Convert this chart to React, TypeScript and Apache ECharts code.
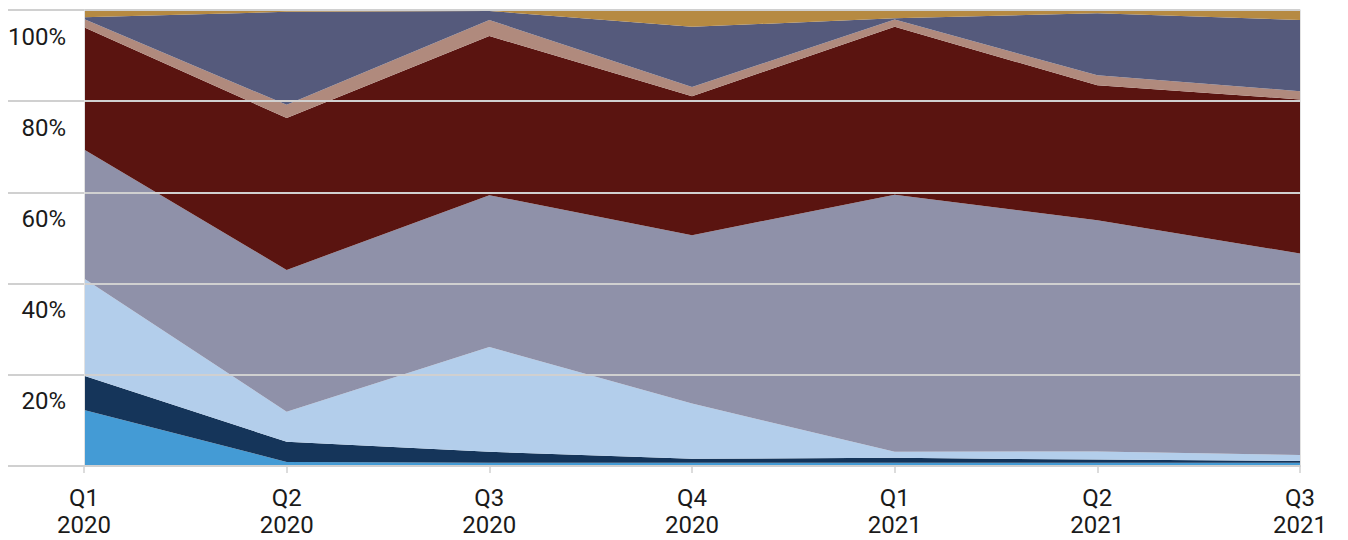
import React, { useEffect, useRef } from "react";
import * as echarts from "echarts";

const categories = ["Q1\n2020", "Q2\n2020", "Q3\n2020", "Q4\n2020", "Q1\n2021", "Q2\n2021", "Q3\n2021"];

const seriesNames = ["A", "B", "C", "D", "E", "F", "G", "H"];
const brightBlue = [12.3, 0.9, 0.7, 0.7, 0.7, 0.7, 0.7];
const navy = [7.5, 4.4, 2.4, 0.9, 1.1, 0.7, 0.4];
const lightBlue = [21.3, 6.6, 23.0, 12.1, 1.3, 1.8, 1.3];
const grayLav = [28.3, 31.1, 33.3, 36.9, 56.4, 50.7, 44.2];
const maroon = [26.8, 33.3, 34.9, 30.5, 36.8, 29.6, 33.8];
const pink = [1.8, 2.9, 3.5, 2.0, 1.6, 2.2, 1.8];
const slate = [0.4, 20.4, 2.0, 13.2, 0.3, 13.6, 15.6];
const gold = [1.6, 0.4, 0.2, 3.7, 1.8, 0.7, 2.2];

const yTicks = [0, 20, 40, 60, 80, 100];

const seriesData = [brightBlue, navy, lightBlue, grayLav, maroon, pink, slate, gold];
const colors = ["#449bd5", "#15355a", "#b3ceeb", "#8f91a9", "#5a1410", "#b08a7d", "#555a7c", "#b68a42"];

export default function App() {
  const ref = useRef<HTMLDivElement>(null);
  useEffect(() => {
    if (!ref.current) return;
    const chart = echarts.init(ref.current, null, { renderer: "svg" });
    const gridColor = "#d0d0d0";
    chart.setOption({
      animation: false,
      grid: { left: 84, right: 48, top: 10, bottom: 74, containLabel: false },
      xAxis: {
        type: "category",
        data: categories,
        boundaryGap: false,
        z: 3,
        axisLine: { show: true, lineStyle: { color: gridColor, width: 2 } },
        axisTick: { show: true, length: 7, alignWithLabel: true, lineStyle: { color: gridColor, width: 1.5 } },
        axisLabel: {
          margin: 18,
          fontFamily: "Roboto",
          fontSize: 24,
          lineHeight: 27,
          color: "#1a1a1a",
          interval: 0,
        },
        splitLine: { show: false },
      },
      yAxis: [
        {
          type: "value",
          min: yTicks[0],
          max: yTicks[yTicks.length - 1],
          interval: 20,
          z: 3,
          axisLine: { show: true, lineStyle: { color: "#e2e2e2", width: 1 } },
          axisTick: { show: true, length: 76, lineStyle: { color: gridColor, width: 2 } },
          axisLabel: {
            margin: 18,
            fontFamily: "Roboto",
            fontSize: 24,
            lineHeight: 53,
            verticalAlign: "top",
            color: "#1a1a1a",
            formatter: (v: number) => (v === 0 ? "" : v + "%"),
          },
          splitLine: { show: true, lineStyle: { color: gridColor, width: 2 } },
        },
        {
          type: "value",
          position: "right",
          min: 0,
          max: 100,
          interval: 20,
          z: 3,
          axisLine: { show: true, lineStyle: { color: "#e2e2e2", width: 1 } },
          axisTick: { show: false },
          axisLabel: { show: false },
          splitLine: { show: false },
        },
      ],
      series: seriesData.map((d, i) => ({
        name: seriesNames[i],
        type: "line",
        stack: "total",
        data: d,
        z: 2,
        symbol: "none",
        showSymbol: false,
        lineStyle: { width: 0, color: colors[i] },
        itemStyle: { color: colors[i] },
        areaStyle: { color: colors[i], opacity: 1 },
      })),
    });
    return () => chart.dispose();
  }, []);
  return <div ref={ref} style={{ position: "absolute", left: 0, top: 0, width: 1348, height: 540 }} />;
}
